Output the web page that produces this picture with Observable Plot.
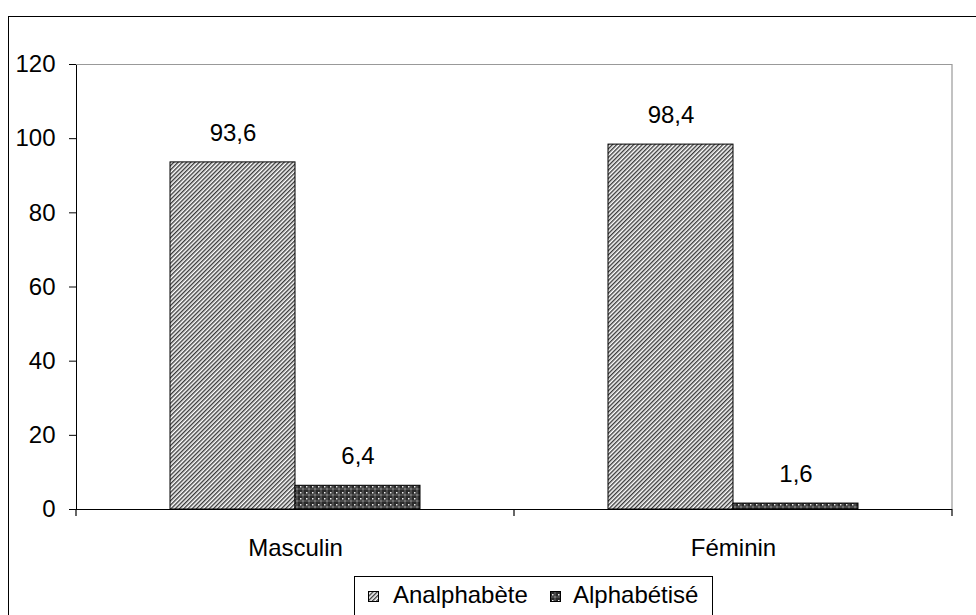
<!DOCTYPE html>
<html>
<head>
<meta charset="utf-8">
<script src="https://cdn.jsdelivr.net/npm/d3@7"></script>
<script src="https://cdn.jsdelivr.net/npm/@observablehq/plot@0.6"></script>
<style>
html,body{margin:0;padding:0;background:#fff;overflow:hidden;width:976px;height:615px;}
#wrap{position:relative;width:976px;height:615px;overflow:hidden;}
#outer{position:absolute;left:8px;top:16px;width:1200px;height:900px;border:1px solid #000;box-sizing:border-box;}
#chart{position:absolute;left:0;top:0;}
#legend{position:absolute;left:354px;top:576px;}
</style>
</head>
<body>
<svg width="0" height="0" style="position:absolute">
  <defs>
    <pattern id="hatch" patternUnits="userSpaceOnUse" width="3" height="3" patternTransform="rotate(45)">
      <rect width="3" height="3" fill="#fff"/>
      <rect width="1.4" height="3" fill="#3a3a3a"/>
    </pattern>
    <pattern id="cross" patternUnits="userSpaceOnUse" width="6" height="6">
      <rect width="6" height="6" fill="#2a2a2a"/>
      <rect x="0" y="2.5" width="6" height="1" fill="#6a6a6a"/>
      <rect x="2.5" y="0" width="1" height="6" fill="#6a6a6a"/>
      <rect x="0" y="0" width="1.5" height="1.5" fill="#eee"/>
      <rect x="2.5" y="2.5" width="1" height="1" fill="#bbb"/>
    </pattern>
  </defs>
</svg>
<div id="wrap">
  <div id="outer"></div>
  <div id="chart"></div>
  <div id="legend"></div>
</div>
<script>
const genders = ["Masculin", "Féminin"];
const series = ["Analphabète", "Alphabétisé"];
const analphabete = [93.6, 98.4];
const alphabetise = [6.4, 1.6];
const yTicks = [0, 20, 40, 60, 80, 100, 120];

const FONT = "'Liberation Sans', Arial, Helvetica, sans-serif";
const fills = {"Analphabète": "url(#hatch)", "Alphabétisé": "url(#cross)"};

const data = genders.flatMap((g, i) => [
  {gender: g, series: series[0], value: analphabete[i]},
  {gender: g, series: series[1], value: alphabetise[i]}
]);
const fmt = v => v.toFixed(1).replace(".", ",");

const chart = Plot.plot({
  width: 976,
  height: 615,
  marginLeft: 76,
  marginRight: 24,
  marginTop: 64,
  marginBottom: 106,
  style: {fontFamily: FONT, fontSize: "24px", color: "#000", background: "transparent", overflow: "visible"},
  fx: {domain: genders, padding: 0, axis: "bottom", label: null, tickSize: 0, tickPadding: 29},
  x: {domain: series, axis: null, paddingInner: 0, paddingOuter: 0.752},
  y: {domain: [0, 120], ticks: yTicks, tickSize: 7, tickPadding: 14, label: null, line: true},
  marks: [
    Plot.ruleY([120], {stroke: "#999", strokeWidth: 1.2}),
    ...series.map(s => Plot.barY(data, {
      filter: d => d.series === s,
      fx: "gender", x: "series", y: "value",
      fill: fills[s], stroke: "#000", strokeWidth: 1, inset: 0
    })),
    Plot.text(data, {fx: "gender", x: "series", y: "value", text: d => fmt(d.value), dy: -29, fill: "#000"}),
    Plot.ruleY([0], {stroke: "#000", strokeWidth: 1.2})
  ]
});
document.getElementById("chart").appendChild(chart);

// boundary ticks and right border from the library's scales
const fxs = chart.scale("fx"), ys = chart.scale("y");
const edges = fxs.domain.map(d => fxs.apply(d));
edges.push(edges[edges.length - 1] + fxs.bandwidth);
const y0 = ys.apply(0), yTop = ys.apply(120);
const svg = d3.select(chart);
const g = svg.append("g");
g.append("line").attr("x1", edges[edges.length - 1]).attr("x2", edges[edges.length - 1])
  .attr("y1", yTop).attr("y2", y0).attr("stroke", "#999").attr("stroke-width", 1.2);
g.selectAll("line.tk").data(edges).join("line").attr("class", "tk")
  .attr("x1", d => d).attr("x2", d => d).attr("y1", y0).attr("y2", y0 + 7)
  .attr("stroke", "#000").attr("stroke-width", 1.2);

// legend
const L = d3.select("#legend").append("svg").attr("width", 380).attr("height", 60)
  .style("font-family", FONT).style("font-size", "24px");
const legendX = [{sw: 14, tx: 39}, {sw: 196, tx: 219}];
L.append("rect").attr("x", 0.5).attr("y", 0.5).attr("width", 358).attr("height", 80)
  .attr("fill", "#fff").attr("stroke", "#000");
series.forEach((s, i) => {
  L.append("rect").attr("x", legendX[i].sw + 0.5).attr("y", 15.5).attr("width", 10).attr("height", 10)
    .attr("fill", fills[s]).attr("stroke", "#000");
  L.append("text").attr("x", legendX[i].tx).attr("y", 27).text(s).attr("fill", "#000");
});
</script>
</body>
</html>
